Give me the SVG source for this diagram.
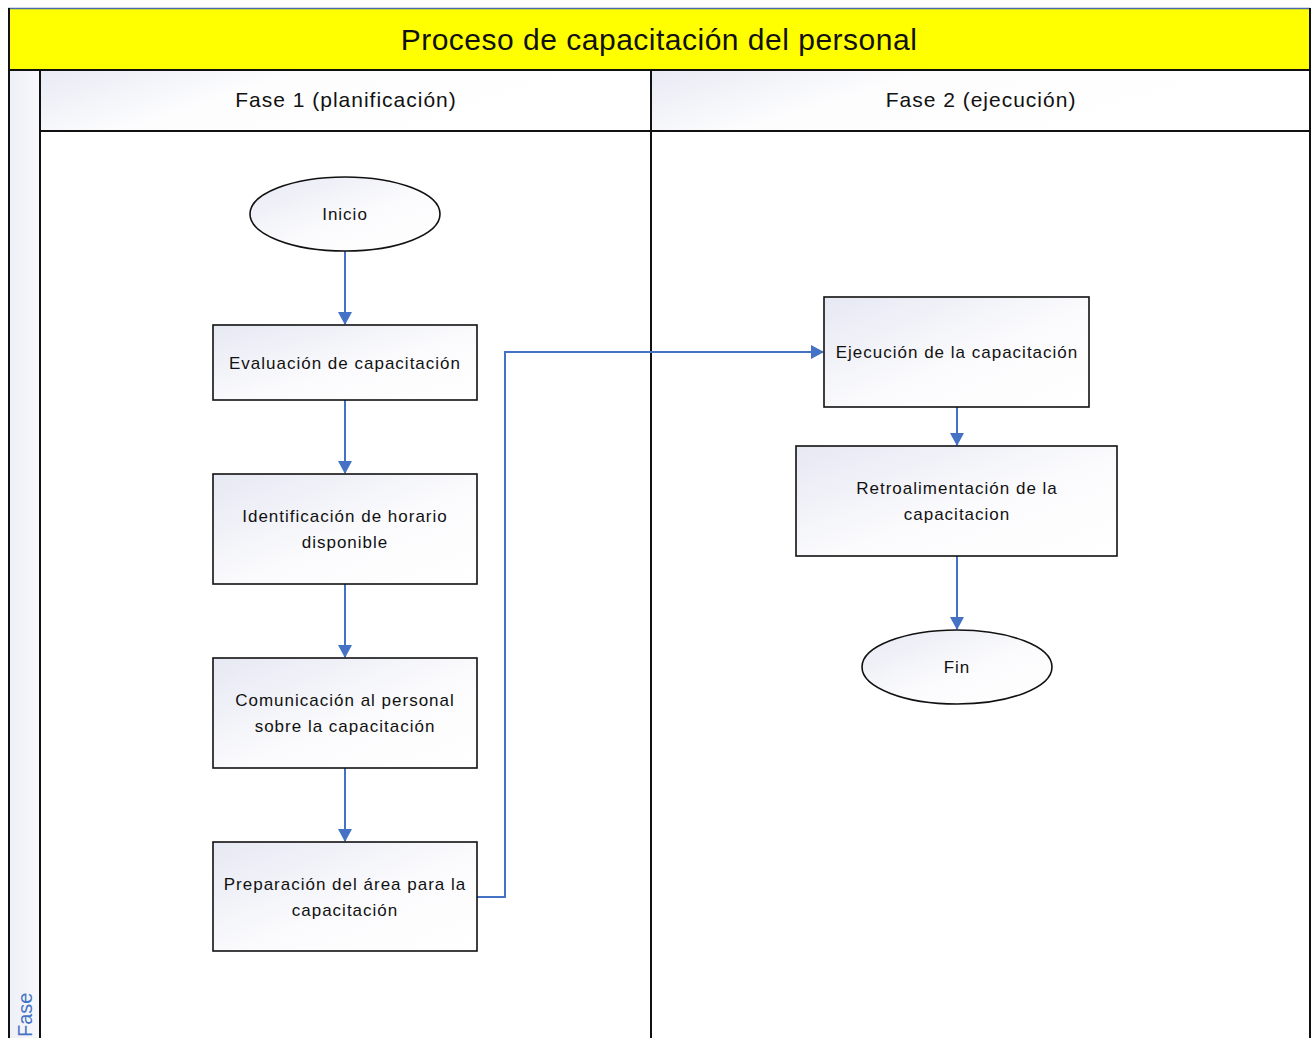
<svg xmlns="http://www.w3.org/2000/svg" width="1316" height="1038" viewBox="0 0 1316 1038">
<defs>
<linearGradient id="g" x1="0" y1="0" x2="1" y2="1">
<stop offset="0" stop-color="#e6e8f3"/>
<stop offset="0.55" stop-color="#fbfbfd"/>
<stop offset="1" stop-color="#ffffff"/>
</linearGradient>
<linearGradient id="gh" x1="0" y1="0" x2="1" y2="0.3">
<stop offset="0" stop-color="#e8eaf4"/>
<stop offset="0.4" stop-color="#fdfdfe"/>
<stop offset="1" stop-color="#ffffff"/>
</linearGradient>
<linearGradient id="gs" x1="0" y1="0" x2="1" y2="0">
<stop offset="0" stop-color="#eef0f7"/>
<stop offset="1" stop-color="#f8f8fc"/>
</linearGradient>
<marker id="arr" markerWidth="14" markerHeight="14" refX="12" refY="7" orient="auto" markerUnits="userSpaceOnUse">
<path d="M0,0 L13,7 L0,14 Z" fill="#4472c4"/>
</marker>
</defs>
<style>
.node{fill:url(#g);stroke:#111;stroke-width:1.6}
.lbl{font-family:"Liberation Sans",Arial,sans-serif;font-size:17px;letter-spacing:1px;fill:#111;text-anchor:middle}
.hdr{font-family:"Liberation Sans",Arial,sans-serif;font-size:21px;letter-spacing:1px;fill:#111;text-anchor:middle}
.conn{fill:none;stroke:#4472c4;stroke-width:2;marker-end:url(#arr)}
.line{stroke:#111;stroke-width:2;fill:none}
</style>
<rect width="1316" height="1038" fill="#ffffff"/>
<g id="pool">
<rect x="9" y="9" width="1301" height="61" fill="#ffff00"/>
<line x1="8" y1="8.5" x2="1310" y2="8.5" stroke="#4a6aa8" stroke-width="1.5"/>
<text x="659" y="50" font-family="'Liberation Sans',Arial,sans-serif" font-size="30" letter-spacing="0.5" fill="#111" text-anchor="middle">Proceso de capacitación del personal</text>
<rect x="9" y="70" width="31" height="970" fill="url(#gs)"/>
<rect x="40" y="70" width="611" height="61" fill="url(#gh)"/>
<rect x="651" y="70" width="659" height="61" fill="url(#gh)"/>
<line class="line" x1="9" y1="8" x2="9" y2="1038"/>
<line class="line" x1="40" y1="70" x2="40" y2="1038"/>
<line class="line" x1="651" y1="70" x2="651" y2="1038"/>
<line class="line" x1="1310" y1="8" x2="1310" y2="1038"/>
<line class="line" x1="9" y1="70" x2="1310" y2="70"/>
<line class="line" x1="40" y1="131" x2="1310" y2="131"/>
<text class="hdr" x="346" y="107">Fase 1 (planificación)</text>
<text class="hdr" x="981" y="107">Fase 2 (ejecución)</text>
<text x="32" y="1037" font-family="'Liberation Sans',Arial,sans-serif" font-size="20" fill="#4472c4" transform="rotate(-90 32 1037)">Fase</text>
</g>
<g id="connectors">
<line class="conn" x1="345" y1="251" x2="345" y2="324"/>
<line class="conn" x1="345" y1="400" x2="345" y2="473"/>
<line class="conn" x1="345" y1="584" x2="345" y2="657"/>
<line class="conn" x1="345" y1="768" x2="345" y2="841"/>
<polyline class="conn" points="477,897 505,897 505,352 823,352"/>
<line class="conn" x1="957" y1="407" x2="957" y2="445"/>
<line class="conn" x1="957" y1="556" x2="957" y2="629"/>
</g>
<g id="inicio">
<ellipse class="node" cx="345" cy="214" rx="95" ry="37"/>
<text class="lbl" x="345" y="220">Inicio</text>
</g>
<g id="evaluacion">
<rect class="node" x="213" y="325" width="264" height="75"/>
<text class="lbl" x="345" y="369">Evaluación de capacitación</text>
</g>
<g id="identificacion">
<rect class="node" x="213" y="474" width="264" height="110"/>
<text class="lbl" x="345" y="522">Identificación de horario</text>
<text class="lbl" x="345" y="548">disponible</text>
</g>
<g id="comunicacion">
<rect class="node" x="213" y="658" width="264" height="110"/>
<text class="lbl" x="345" y="706">Comunicación al personal</text>
<text class="lbl" x="345" y="732">sobre la capacitación</text>
</g>
<g id="preparacion">
<rect class="node" x="213" y="842" width="264" height="109"/>
<text class="lbl" x="345" y="890">Preparación del área para la</text>
<text class="lbl" x="345" y="916">capacitación</text>
</g>
<g id="ejecucion">
<rect class="node" x="824" y="297" width="265" height="110"/>
<text class="lbl" x="957" y="358">Ejecución de la capacitación</text>
</g>
<g id="retroalimentacion">
<rect class="node" x="796" y="446" width="321" height="110"/>
<text class="lbl" x="957" y="494">Retroalimentación de la</text>
<text class="lbl" x="957" y="520">capacitacion</text>
</g>
<g id="fin">
<ellipse class="node" cx="957" cy="667" rx="95" ry="37"/>
<text class="lbl" x="957" y="673">Fin</text>
</g>
</svg>
